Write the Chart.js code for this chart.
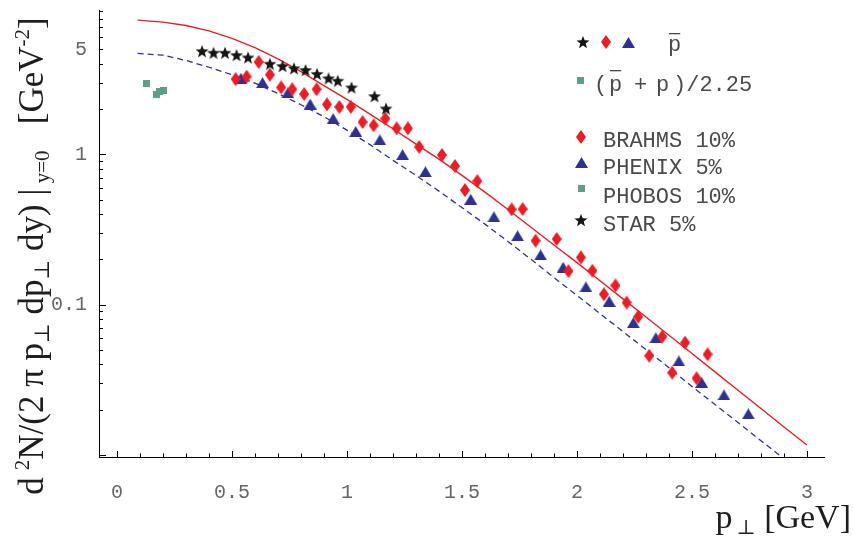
<!DOCTYPE html>
<html>
<head>
<meta charset="utf-8">
<title>Antiproton spectra at y=0</title>
<script src="https://cdn.jsdelivr.net/npm/chart.js@4.4.1/dist/chart.umd.min.js"></script>
<style>
  html, body { margin: 0; padding: 0; background: #fff; }
  #wrap { width: 853px; height: 538px; position: relative; }
</style>
</head>
<body>
<div id="wrap"><canvas id="spectraChart"></canvas></div>
<script>
// values: p_T in GeV, yield in GeV^-2
var starPt    = [0.37, 0.42, 0.47, 0.52, 0.57, 0.665, 0.72, 0.77, 0.82, 0.87, 0.92, 0.96, 1.02, 1.12, 1.17];
var starYield = [4.87, 4.75, 4.75, 4.58, 4.42, 4.01, 3.87, 3.74, 3.64, 3.43, 3.21, 3.09, 2.79, 2.44, 2.02];

var brahmsPt    = [0.516, 0.564, 0.616, 0.665, 0.714, 0.762, 0.814, 0.868, 0.913, 0.967, 1.017, 1.068, 1.116,
                   1.167, 1.216, 1.265, 1.314, 1.413, 1.470, 1.513, 1.567, 1.716, 1.764, 1.820, 1.912, 1.963,
                   2.017, 2.067, 2.117, 2.167, 2.216, 2.266, 2.314, 2.371, 2.414, 2.470, 2.520, 2.568];
var brahmsYield = [3.17, 3.29, 4.12, 3.39, 2.79, 2.71, 2.52, 2.71, 2.15, 2.07, 2.07, 1.64, 1.56,
                   1.73, 1.49, 1.49, 1.12, 0.99, 0.836, 0.578, 0.664, 0.430, 0.432, 0.266, 0.273, 0.167,
                   0.206, 0.168, 0.117, 0.134, 0.103, 0.083, 0.0456, 0.0611, 0.0352, 0.0557, 0.0323, 0.0466];

var phenixPt    = [0.539, 0.633, 0.743, 0.840, 0.940, 1.038, 1.143, 1.242, 1.341, 1.538, 1.639,
                   1.742, 1.842, 1.940, 2.039, 2.140, 2.245, 2.343, 2.443, 2.542, 2.639, 2.745];
var phenixYield = [3.21, 3.00, 2.57, 2.16, 1.73, 1.42, 1.25, 0.995, 0.766, 0.502, 0.384,
                   0.287, 0.214, 0.177, 0.131, 0.105, 0.0757, 0.0601, 0.0421, 0.0303, 0.0250, 0.0187];

var phobosPt    = [0.129, 0.170, 0.184, 0.204];
var phobosYield = [2.97, 2.52, 2.61, 2.68];

// model curves (solid = pbar, dashed = (pbar + p)/2.25)
var curvePt     = [0.09, 0.2, 0.3, 0.4, 0.5, 0.6, 0.7, 0.8, 0.9, 1.0, 1.1, 1.2, 1.3, 1.4, 1.5,
                   1.6, 1.7, 1.8, 1.9, 2.0, 2.1, 2.2, 2.3, 2.4, 2.5, 2.6, 2.7, 2.8, 2.9, 3.0];
var solidCurve  = [7.83, 7.59, 7.21, 6.64, 5.92, 5.13, 4.32, 3.55, 2.87, 2.32, 1.85, 1.48, 1.17, 0.929, 0.724,
                   0.560, 0.429, 0.327, 0.249, 0.190, 0.144, 0.109, 0.0826, 0.0625, 0.0472, 0.0356, 0.0269,
                   0.0203, 0.0153, 0.0116];
var dashedCurve = [4.70, 4.57, 4.22, 3.80, 3.39, 2.98, 2.54, 2.14, 1.78, 1.45, 1.16, 0.912, 0.724, 0.569, 0.442,
                   0.343, 0.263, 0.200, 0.151, 0.115, 0.0871, 0.0661, 0.0501, 0.0380, 0.0285, 0.0216, 0.0164,
                   0.0124, 0.0094];

var xTickLabels = ['0', '0.5', '1', '1.5', '2', '2.5', '3'];
var yTickLabels = ['0.1', '1', '5'];
var legendRows  = ['BRAHMS 10%', 'PHENIX 5%', 'PHOBOS 10%', 'STAR 5%'];

document.addEventListener('DOMContentLoaded', function() {
    var RED = '#ec1c24', BLUE = '#2e3192', BLACK = '#151515', TEAL = '#5c9f88';
    var textGray = '#4a4a4a';
    var monoFont = '"Liberation Mono", "Courier New", monospace';
    var serifFont = '"Liberation Serif", "DejaVu Serif", serif';

    function toPoints(xs, ys) {
        return xs.map(function(x, i) { return { x: x, y: ys[i] }; });
    }

    // small canvases used as point styles
    function markerCanvas(w, h, color, shape) {
        var c = document.createElement('canvas');
        c.width = w;
        c.height = h;
        var g = c.getContext('2d');
        g.fillStyle = color;
        g.beginPath();
        shape(g, w, h);
        g.closePath();
        g.fill();
        return c;
    }

    var starImg = markerCanvas(14, 14, BLACK, function(g, w, h) {
        var R = 6.8, r = R * 0.42, cx = w / 2, cy = h / 2 + R * 0.1;
        for (var i = 0; i < 10; i++) {
            var a = -Math.PI / 2 + i * Math.PI / 5;
            var rr = i % 2 === 0 ? R : r;
            g.lineTo(cx + rr * Math.cos(a), cy + rr * Math.sin(a));
        }
    });
    var diamondImg = markerCanvas(10, 14, RED, function(g, w, h) {
        g.moveTo(w / 2, 0); g.lineTo(w, h / 2); g.lineTo(w / 2, h); g.lineTo(0, h / 2);
    });
    var triangleImg = markerCanvas(13, 11, BLUE, function(g, w, h) {
        g.moveTo(w / 2, 0); g.lineTo(w, h); g.lineTo(0, h);
    });
    var squareImg = markerCanvas(7, 7, TEAL, function(g, w, h) {
        g.rect(0, 0, w, h);
    });

    // text with sub/superscripts along the current x direction
    function richRun(ctx, parts, size, draw) {
        var x = 0;
        parts.forEach(function(p) {
            var s = p[1] ? size * 0.6 : size;
            var dy = p[1] === 'sup' ? -size * 0.4 : (p[1] === 'sub' ? size * 0.18 : 0);
            ctx.font = s + 'px ' + serifFont;
            if (draw) ctx.fillText(p[0], x, dy);
            x += ctx.measureText(p[0]).width;
        });
        return x;
    }

    var yTitleParts = [['d', ''], ['\u2009', ''], ['2', 'sup'], ['N/(2 \u03c0 p', ''], ['\u22a5', 'sub'],
                       [' dp', ''], ['\u22a5', 'sub'], [' dy) |', ''], [' y=0', 'sub'],
                       ['   [GeV', ''], ['-2', 'sup'], [']', '']];
    var xTitleParts = [['p', ''], ['\u2009\u22a5', 'sub'], [' [GeV]', '']];

    function pbar(ctx, x, baseline, overY) {
        ctx.fillText('p', x, baseline);
        var w = ctx.measureText('p').width;
        ctx.fillRect(x + 1, overY, w - 2, 1.3);
    }

    var frameExtras = {
        id: 'frameExtras',
        afterDraw: function(chart) {
            var ctx = chart.ctx, xs = chart.scales.x, ys = chart.scales.y, area = chart.chartArea;
            ctx.save();

            // tick marks pointing into the frame
            ctx.strokeStyle = '#000';
            ctx.lineWidth = 1;
            ctx.beginPath();
            for (var i = 0; i <= 30; i++) {
                var px = Math.round(xs.getPixelForValue(i / 10)) + 0.5;
                var len = i % 5 === 0 ? 6 : 3.5;
                ctx.moveTo(px, area.bottom);
                ctx.lineTo(px, area.bottom - len);
            }
            [0.001, 0.01, 0.1, 1].forEach(function(base) {
                for (var m = 1; m <= 9; m++) {
                    var v = base * m;
                    if (v < ys.min || v > ys.max) continue;
                    var py = Math.round(ys.getPixelForValue(v)) + 0.5;
                    ctx.moveTo(area.left, py);
                    ctx.lineTo(area.left + (m === 1 ? 7 : 4), py);
                }
            });
            ctx.stroke();

            // axis titles
            ctx.fillStyle = '#1e1e1e';
            ctx.textBaseline = 'alphabetic';
            ctx.textAlign = 'left';
            ctx.save();
            ctx.translate(43, 256);
            ctx.rotate(-Math.PI / 2);
            var tw = richRun(ctx, yTitleParts, 35, false);
            ctx.translate(-tw / 2, 0);
            richRun(ctx, yTitleParts, 35, true);
            ctx.restore();

            ctx.save();
            var xw = richRun(ctx, xTitleParts, 34, false);
            ctx.translate(851 - xw, 528);
            richRun(ctx, xTitleParts, 34, true);
            ctx.restore();

            // legend block
            function put(img, x, y) {
                ctx.drawImage(img, Math.round(x - img.width / 2), Math.round(y - img.height / 2));
            }
            ctx.fillStyle = textGray;
            ctx.font = '22px ' + monoFont;
            put(starImg, 583, 42);
            put(diamondImg, 606, 42);
            put(triangleImg, 628, 42);
            pbar(ctx, 668, 51, 33);

            put(squareImg, 580, 80);
            ctx.fillText('(', 594, 91);
            pbar(ctx, 609, 91, 70);
            ctx.fillText('+', 634, 91);
            ctx.fillText('p', 656, 91);
            ctx.fillText(')/2.25', 673, 91);

            var rowImgs = [diamondImg, triangleImg, squareImg, starImg];
            var rowMarkY = [137, 162, 188, 220];
            var rowTextY = [147, 174, 203, 231];
            legendRows.forEach(function(label, k) {
                put(rowImgs[k], 581, rowMarkY[k]);
                ctx.fillText(label, 603, rowTextY[k]);
            });

            ctx.restore();
        }
    };

    var xTickValues = xTickLabels.map(parseFloat);
    var yTickValues = yTickLabels.map(parseFloat);
    var ctx = document.getElementById('spectraChart').getContext('2d');

    var spectraChart = new Chart(ctx, {
        type: 'scatter',
        data: {
            datasets: [
                { label: 'STAR', data: toPoints(starPt, starYield), pointStyle: starImg, pointRadius: 5, order: 1 },
                { label: 'BRAHMS', data: toPoints(brahmsPt, brahmsYield), pointStyle: diamondImg, pointRadius: 5, order: 2 },
                { label: 'PHENIX', data: toPoints(phenixPt, phenixYield), pointStyle: triangleImg, pointRadius: 5, order: 3 },
                { label: 'PHOBOS', data: toPoints(phobosPt, phobosYield), pointStyle: squareImg, pointRadius: 5, order: 4 },
                {
                    label: 'pbar model', data: toPoints(curvePt, solidCurve), showLine: true,
                    borderColor: RED, borderWidth: 1.4, pointRadius: 0, order: 5
                },
                {
                    label: '(pbar+p)/2.25 model', data: toPoints(curvePt.slice(0, dashedCurve.length), dashedCurve),
                    showLine: true, borderColor: BLUE, borderWidth: 1.3, borderDash: [6, 4], pointRadius: 0, order: 6
                }
            ]
        },
        options: {
            animation: false,
            responsive: true,
            maintainAspectRatio: false,
            layout: { padding: { top: 10, right: 29, left: 0, bottom: 0 } },
            plugins: {
                legend: { display: false },
                tooltip: { enabled: false }
            },
            scales: {
                x: {
                    type: 'linear',
                    min: -0.078,
                    max: 3.074,
                    afterFit: function(scale) {
                        scale.height = 81;
                        scale.paddingLeft = 0;
                        scale.paddingRight = 0;
                    },
                    afterBuildTicks: function(scale) {
                        scale.ticks = xTickValues.map(function(v) { return { value: v }; });
                    },
                    grid: { display: false, drawTicks: false },
                    border: { display: true, color: '#000', width: 1 },
                    ticks: {
                        callback: function(value, index) { return xTickLabels[index]; },
                        font: { family: monoFont, size: 20 },
                        color: '#666',
                        padding: 24,
                        maxRotation: 0,
                        autoSkip: false
                    }
                },
                y: {
                    type: 'logarithmic',
                    min: 0.00966,
                    max: 9.14,
                    afterFit: function(scale) {
                        scale.width = 99;
                        scale.paddingTop = 0;
                        scale.paddingBottom = 0;
                    },
                    afterBuildTicks: function(scale) {
                        scale.ticks = yTickValues.map(function(v) { return { value: v }; });
                    },
                    grid: { display: false, drawTicks: false },
                    border: { display: true, color: '#000', width: 1 },
                    ticks: {
                        callback: function(value, index) { return yTickLabels[index]; },
                        font: { family: monoFont, size: 20 },
                        color: '#666',
                        padding: 12,
                        autoSkip: false
                    }
                }
            }
        },
        plugins: [frameExtras]
    });
});
</script>
</body>
</html>
